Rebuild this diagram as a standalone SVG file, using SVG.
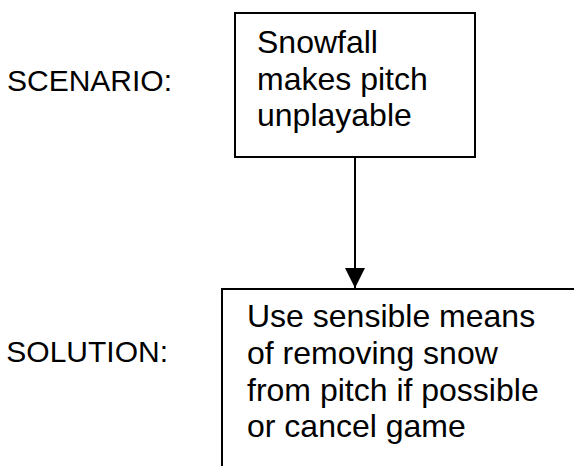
<svg xmlns="http://www.w3.org/2000/svg" width="574" height="466" viewBox="0 0 574 466">
<defs>
<style>
.box{fill:#fff;stroke:#000;stroke-width:2}
.t{font-family:"Liberation Sans",Arial,sans-serif;font-size:32px;fill:#000}
.lbl{font-family:"Liberation Sans",Arial,sans-serif;font-size:30px;fill:#000}
.conn{stroke:#000;stroke-width:2;fill:none}
</style>
<marker id="ah" viewBox="0 0 20 20" markerWidth="20" markerHeight="20" refX="20" refY="10" orient="auto" markerUnits="userSpaceOnUse">
<path d="M0,0 L20,10 L0,20 Z" fill="#000"/>
</marker>
</defs>
<rect width="574" height="466" fill="#fff"/>
<g id="label-scenario"><text class="lbl" x="172" y="91" text-anchor="end">SCENARIO:</text></g>
<g id="label-solution"><text class="lbl" x="168" y="362" text-anchor="end">SOLUTION:</text></g>
<g id="node-scenario">
<rect class="box" x="235" y="13" width="240" height="144"/>
<text class="t" x="257" y="53">Snowfall</text>
<text class="t" x="257" y="90">makes pitch</text>
<text class="t" x="257" y="126">unplayable</text>
</g>
<g id="node-solution">
<rect class="box" x="222" y="289" width="360" height="200"/>
<text class="t" x="247" y="327">Use sensible means</text>
<text class="t" x="247" y="364">of removing snow</text>
<text class="t" x="247" y="401">from pitch if possible</text>
<text class="t" x="247" y="437">or cancel game</text>
</g>
<g id="connectors">
<line class="conn" x1="355" y1="157" x2="355" y2="288" marker-end="url(#ah)"/>
</g>
</svg>
